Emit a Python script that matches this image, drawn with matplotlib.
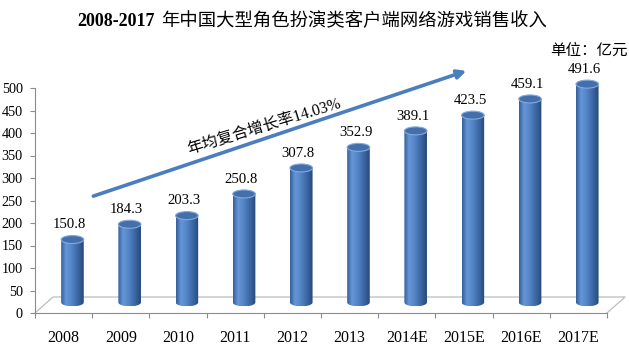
import numpy as np
import matplotlib
matplotlib.use("Agg")
import matplotlib.pyplot as plt
from matplotlib.patches import PathPatch, Ellipse, FancyArrowPatch
from matplotlib.path import Path
from matplotlib.colors import LinearSegmentedColormap

# ---- data ----
years = ["2008", "2009", "2010", "2011", "2012", "2013", "2014E", "2015E", "2016E", "2017E"]
revenue = [150.8, 184.3, 203.3, 250.8, 307.8, 352.9, 389.1, 423.5, 459.1, 491.6]
title_num = "2008-2017"
title_cn = "年中国大型角色扮演类客户端网络游戏销售收入"
unit_label = "单位：亿元"
cagr_label = "年均复合增长率14.03%"
yticks = list(range(0, 501, 50))

SERIF = ["Liberation Serif", "Noto Sans CJK SC"]
CJK = ["Noto Sans CJK SC", "Liberation Serif"]
GRAY = "#8c8c8c"
FLOOR = "#bdbdbd"

W_PX, H_PX = 629, 349
fig = plt.figure(figsize=(W_PX / 100, H_PX / 100), dpi=100)

# axes geometry in pixels (from top-left)
ax_l, ax_r, ax_t, ax_b = 35, 607, 88, 313
rect = [ax_l / W_PX, 1 - ax_b / H_PX, (ax_r - ax_l) / W_PX, (ax_b - ax_t) / H_PX]
ax = fig.add_axes(rect)
n = len(years)
ax.set_xlim(-0.5, n - 0.5)
ax.set_ylim(0, 500)
ax.set_yticks(yticks)
ax.set_yticklabels([str(t) for t in yticks], fontfamily=SERIF, fontsize=10.3)
ax.set_xticks(np.arange(n))
ax.set_xticklabels(years, fontfamily=SERIF, fontsize=11.5)
ax.set_xticks(np.arange(n + 1) - 0.5, minor=True)
ax.tick_params(axis="x", which="major", length=0, pad=12.5)
ax.tick_params(axis="x", which="minor", length=3.6, color=GRAY, width=0.8)
ax.tick_params(axis="y", length=3.6, color=GRAY, width=0.8, pad=5.2)
for s in ["top", "right"]:
    ax.spines[s].set_visible(False)
ax.spines["left"].set_color(GRAY)
ax.spines["left"].set_linewidth(0.8)
ax.spines["bottom"].set_color(GRAY)
ax.spines["bottom"].set_linewidth(0.8)
ax.patch.set_alpha(0)

# 3D floor (back edge offset by ~18px right, 16px up)
dx = 18 / ((ax_r - ax_l) / n)
dy = 16 / ((ax_b - ax_t) / 500)
ax.plot([-0.5, -0.5 + dx, n - 0.5 + dx, n - 0.5], [0, dy, dy, 0],
        color=FLOOR, lw=0.9, clip_on=False, zorder=1)

# bars axes with slightly different vertical mapping (perspective)
bx_t = 50
rect_b = [ax_l / W_PX, 1 - ax_b / H_PX, (ax_r - ax_l) / W_PX, (ax_b - bx_t) / H_PX]
bx = fig.add_axes(rect_b, frameon=False)
bx.set_axis_off()
px0, k = 308.3, 0.456
y_lo = (px0 - ax_b) / k
y_hi = (px0 - bx_t) / k

cmap = LinearSegmentedColormap.from_list(
    "cyl", [(0.0, "#325e99"), (0.22, "#6696d6"), (0.45, "#5586c8"),
            (0.75, "#3a66a2"), (1.0, "#264877")])

w = 0.395
eh = 8 / k
base = 13
xoff = 0.155
grad = np.linspace(0, 1, 256).reshape(1, -1)
theta = np.linspace(np.pi, 2 * np.pi, 40)
for i, v in enumerate(revenue):
    xc = i + xoff
    xl, xr = xc - w / 2, xc + w / 2
    verts = [(xl, v), (xl, base)]
    verts += [(xc + w / 2 * np.cos(t), base + eh / 2 * np.sin(t)) for t in theta]
    verts += [(xr, v), (xl, v)]
    codes = [Path.MOVETO] + [Path.LINETO] * (len(verts) - 2) + [Path.CLOSEPOLY]
    body = PathPatch(Path(verts, codes), transform=bx.transData,
                     facecolor="none", edgecolor="none")
    bx.add_patch(body)
    im = bx.imshow(grad, extent=[xl, xr, base - eh / 2, v], cmap=cmap,
                   aspect="auto", interpolation="bilinear", zorder=2)
    im.set_clip_path(body)
    bx.add_patch(Ellipse((xc, v), w, eh, facecolor="#4370ad",
                         edgecolor="#86a9d8", lw=0.8, zorder=3, clip_on=False))
    bx.annotate(f"{v:.1f}", (xc - 0.05, v), xytext=(0, 6), textcoords="offset points",
                ha="center", va="bottom", fontfamily=SERIF, fontsize=10.6,
                annotation_clip=False)

bx.set_xlim(-0.5, n - 0.5)
bx.set_ylim(y_lo, y_hi)

# title
fig.text(155 / W_PX, 1 - 21 / H_PX, title_num, ha="right", va="center",
         fontfamily=SERIF, fontsize=13, fontweight="bold")
fig.text(161 / W_PX, 1 - 21 / H_PX, title_cn, ha="left", va="center",
         fontfamily=CJK, fontsize=13.2)
fig.text(628 / W_PX, 1 - 50 / H_PX, unit_label, ha="right", va="center",
         fontfamily=CJK, fontsize=11.2)

# growth arrow
fig.patches.append(FancyArrowPatch(
    (90.7 / W_PX, 1 - 197 / H_PX), (469 / W_PX, 1 - 70 / H_PX),
    transform=fig.transFigure, arrowstyle="-|>", mutation_scale=13,
    lw=2.6, color="#4a7ebe"))
fig.text(264 / W_PX, 1 - 127 / H_PX, cagr_label, ha="center", va="center",
         rotation=17, rotation_mode="anchor", fontfamily=SERIF, fontsize=11.4)

fig.savefig("out.png", dpi=100)
